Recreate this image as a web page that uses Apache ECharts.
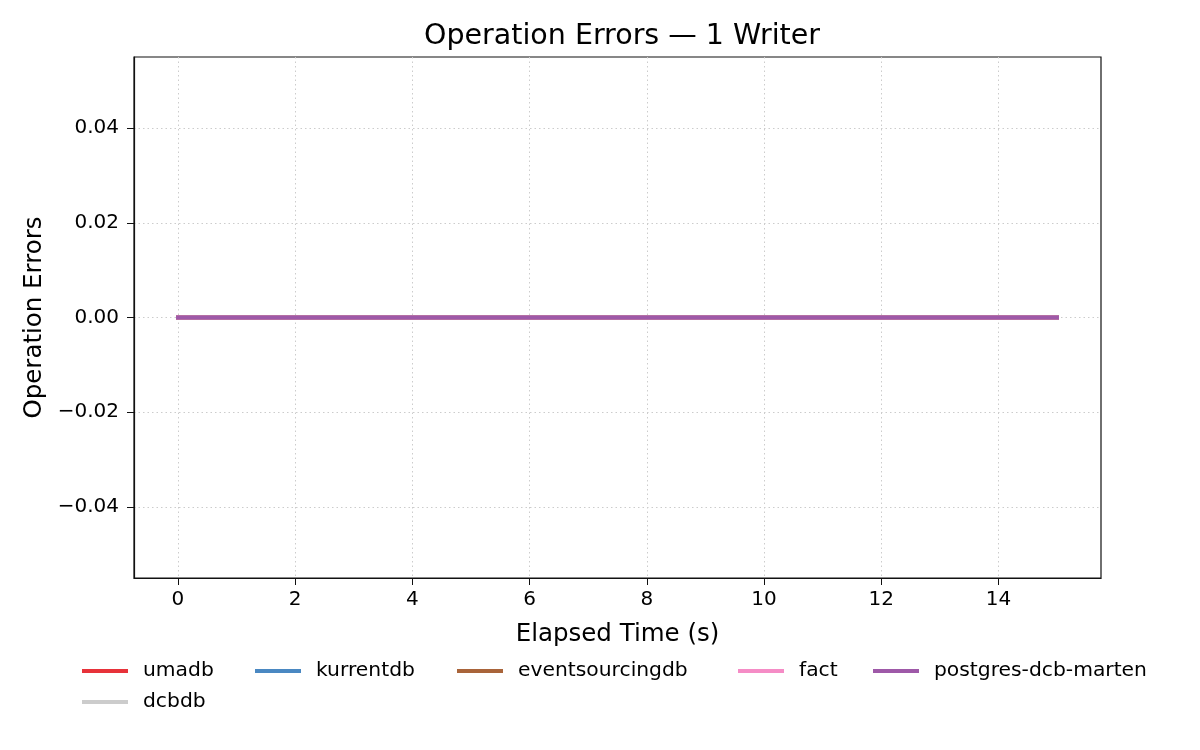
<!DOCTYPE html>
<html>
<head>
<meta charset="utf-8">
<script src="https://cdn.jsdelivr.net/npm/echarts@6/dist/echarts.min.js"></script>
<style>
  html, body { margin: 0; padding: 0; background: #fff; }
  #chart { width: 1200px; height: 750px; }
</style>
</head>
<body>
<div id="chart"></div>
<script>
// elapsed seconds sampled
const elapsed = [0, 1, 2, 3, 4, 5, 6, 7, 8, 9, 10, 11, 12, 13, 14, 15];
// error counts per store (all zero in the run)
const umadbErrors = [0, 0, 0, 0, 0, 0, 0, 0, 0, 0, 0, 0, 0, 0, 0, 0];
const dcbdbErrors = [0, 0, 0, 0, 0, 0, 0, 0, 0, 0, 0, 0, 0, 0, 0, 0];
const kurrentdbErrors = [0, 0, 0, 0, 0, 0, 0, 0, 0, 0, 0, 0, 0, 0, 0, 0];
const eventsourcingdbErrors = [0, 0, 0, 0, 0, 0, 0, 0, 0, 0, 0, 0, 0, 0, 0, 0];
const factErrors = [0, 0, 0, 0, 0, 0, 0, 0, 0, 0, 0, 0, 0, 0, 0, 0];
const postgresErrors = [0, 0, 0, 0, 0, 0, 0, 0, 0, 0, 0, 0, 0, 0, 0, 0];

const xTicks = [0, 2, 4, 6, 8, 10, 12, 14];
const yTicks = [-0.04, -0.02, 0, 0.02, 0.04];

const stores = [
  { name: 'umadb', values: umadbErrors, color: '#e7323a' },
  { name: 'dcbdb', values: dcbdbErrors, color: '#cccccc' },
  { name: 'kurrentdb', values: kurrentdbErrors, color: '#4a88c2' },
  { name: 'eventsourcingdb', values: eventsourcingdbErrors, color: '#a9643a' },
  { name: 'fact', values: factErrors, color: '#f58cc6' },
  { name: 'postgres-dcb-marten', values: postgresErrors, color: '#9e59a8' }
];

const FONT = 'DejaVu Sans';

// legend laid out in columns like matplotlib's ncol=5
const legendCols = [
  { left: 77, data: ['umadb', 'dcbdb'] },
  { left: 250, data: ['kurrentdb'] },
  { left: 452, data: ['eventsourcingdb'] },
  { left: 733, data: ['fact'] },
  { left: 868, data: ['postgres-dcb-marten'] }
];

const chart = echarts.init(document.getElementById('chart'), null, { renderer: 'canvas' });

const minusFmt = v => v.toFixed(2).replace('-', '\u2212');

chart.setOption({
  animation: false,
  backgroundColor: '#fff',
  title: {
    text: 'Operation Errors \u2014 1 Writer',
    left: 617, textAlign: 'center', top: 17,
    textStyle: { fontFamily: FONT, fontSize: 28.5, fontWeight: 'normal', color: '#000' }
  },
  legend: legendCols.map(c => ({
    data: c.data,
    orient: 'vertical',
    left: c.left, top: 656,
    itemWidth: 46, itemHeight: 4, itemGap: 11,
    icon: 'rect',
    textStyle: { fontFamily: FONT, fontSize: 20.3, color: '#000', padding: [0, 0, 0, 10] }
  })),
  grid: {
    left: 134, right: 99, top: 57, bottom: 172,
    show: true, borderColor: '#111', borderWidth: 1.2, backgroundColor: 'transparent'
  },
  xAxis: {
    type: 'value', min: -0.75, max: 15.75,
    name: 'Elapsed Time (s)', nameLocation: 'middle', nameGap: 44,
    nameTextStyle: { fontFamily: FONT, fontSize: 24.5, color: '#000' },
    axisLine: { show: true, onZero: false, lineStyle: { color: '#111', width: 1.2 } },
    axisTick: { show: true, length: 7, customValues: xTicks, lineStyle: { color: '#111' } },
    axisLabel: { customValues: xTicks, fontFamily: FONT, fontSize: 20, color: '#000', margin: 12 },
    splitLine: { show: true, lineStyle: { color: '#cccccc', type: [1.5, 3], width: 1 } }
  },
  yAxis: {
    type: 'value', min: -0.055, max: 0.055,
    name: 'Operation Errors', nameLocation: 'middle', nameGap: 85,
    nameTextStyle: { fontFamily: FONT, fontSize: 24.5, color: '#000' },
    axisLine: { show: true, onZero: false, lineStyle: { color: '#111', width: 1.2 } },
    axisTick: { show: true, length: 7, customValues: yTicks, lineStyle: { color: '#111' } },
    axisLabel: { customValues: yTicks, formatter: minusFmt, fontFamily: FONT, fontSize: 20, color: '#000', margin: 15 },
    splitLine: { show: true, lineStyle: { color: '#cccccc', type: [1.5, 3], width: 1 } }
  },
  series: stores.map(s => ({
    name: s.name,
    type: 'line',
    data: elapsed.map((t, i) => [t, s.values[i]]),
    showSymbol: false,
    symbol: 'none',
    color: s.color,
    lineStyle: { width: 3.8, color: s.color, cap: 'square' }
  }))
});
</script>
</body>
</html>
